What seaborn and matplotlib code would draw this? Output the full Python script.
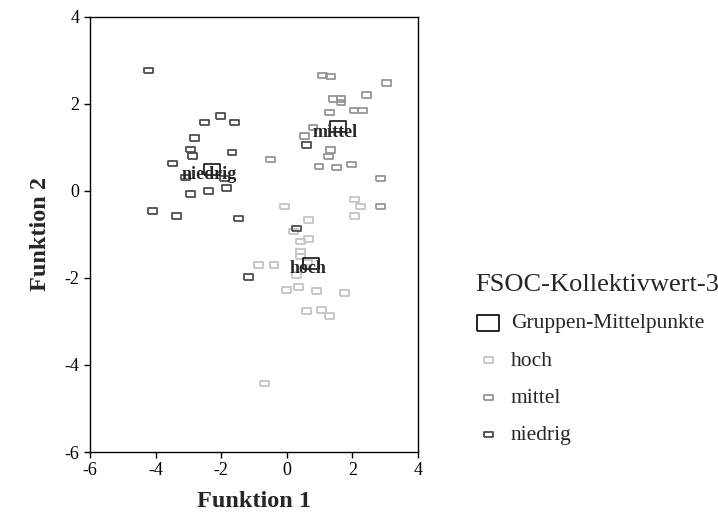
import matplotlib
matplotlib.use("Agg")
import matplotlib.pyplot as plt
import seaborn as sns

# Diskriminanzwerte (Funktion 1 / Funktion 2) je Gruppe
hoch_x = [-0.07, 2.06, 2.25, 2.06, 0.66, 0.21, 0.66, 0.42, 0.42, 0.42, 0.62,
          -0.87, -0.39, 0.30, -0.01, 0.35, 0.91, 1.75, 0.60, 1.06, 1.31, -0.68]
hoch_y = [-0.36, -0.19, -0.36, -0.57, -0.67, -0.93, -1.10, -1.16, -1.39, -1.51, -1.64,
          -1.70, -1.70, -1.93, -2.28, -2.21, -2.30, -2.34, -2.76, -2.74, -2.87, -4.43]

mittel_x = [1.08, 1.33, 3.03, 1.41, 1.65, 1.65, 2.42, 1.31, 2.05, 2.31,
            0.80, 0.53, 1.34, 1.26, 0.98, 1.52, 1.98, 2.86, 2.86, -0.50]
mittel_y = [2.65, 2.63, 2.48, 2.11, 2.11, 2.04, 2.21, 1.80, 1.85, 1.85,
            1.46, 1.26, 0.94, 0.79, 0.56, 0.54, 0.61, 0.29, -0.36, 0.73]

niedrig_x = [-4.22, -2.52, -2.03, -1.59, -2.81, -2.94, -2.88, -1.67, -3.49, -3.08,
             -1.89, -2.94, -2.39, -1.84, -4.09, -3.37, -1.47, -1.17, 0.30, 0.60]
niedrig_y = [2.77, 1.58, 1.72, 1.58, 1.22, 0.96, 0.80, 0.89, 0.63, 0.31,
             0.29, -0.07, 0.00, 0.07, -0.46, -0.57, -0.63, -1.98, -0.86, 1.06]

# Gruppen-Mittelpunkte
centroid_names = ["niedrig", "mittel", "hoch"]
centroid_x = [-2.28, 1.56, 0.73]
centroid_y = [0.50, 1.48, -1.66]

group_colors = {"hoch": "#c4c4c4", "mittel": "#959595", "niedrig": "#4d4d4d"}

sns.set_style("ticks")
plt.rcParams["font.family"] = ["Liberation Serif", "DejaVu Serif"]
plt.rcParams["axes.unicode_minus"] = False

# rectangular markers, wider than tall
rect = [(-1, -0.62), (1, -0.62), (1, 0.62), (-1, 0.62), (-1, -0.62)]
rect_big = [(-1, -0.7), (1, -0.7), (1, 0.7), (-1, 0.7), (-1, -0.7)]

fig = plt.figure(figsize=(7.18, 5.24), dpi=100)
ax = fig.add_axes([0.1253, 0.1374, 0.4569, 0.8302])

groups = [("hoch", hoch_x, hoch_y), ("mittel", mittel_x, mittel_y),
          ("niedrig", niedrig_x, niedrig_y)]
for name, gx, gy in groups:
    c = group_colors[name]
    sns.scatterplot(x=gx, y=gy, ax=ax, marker=rect, s=40, color=c,
                    facecolor="none", edgecolor=c, linewidth=1.3, zorder=3)

sns.scatterplot(x=centroid_x, y=centroid_y, ax=ax, marker=rect_big, s=125,
                color="black", facecolor="none", edgecolor="black",
                linewidth=1.1, zorder=4)

for name, cx, cy in zip(centroid_names, centroid_x, centroid_y):
    ax.annotate(name, (cx, cy), xytext=(-2, -4), textcoords="offset points",
                ha="center", va="center", fontsize=13, fontweight="bold",
                zorder=5)

ax.set_xlim(-6, 4)
ax.set_ylim(-6, 4)
ax.set_xticks([-6, -4, -2, 0, 2, 4])
ax.set_yticks([-6, -4, -2, 0, 2, 4])
ax.tick_params(direction="out", length=4, width=1, labelsize=13, colors="black")
for sp in ax.spines.values():
    sp.set_visible(True)
    sp.set_color("black")
    sp.set_linewidth(1.0)

ax.set_xlabel("Funktion 1", fontsize=17.5, fontweight="bold", labelpad=8)
ax.set_ylabel("Funktion 2", fontsize=17.5, fontweight="bold", labelpad=10)

# legend built from the drawn collections
handles = ax.collections
order = [3, 0, 1, 2]
labels = ["Gruppen-Mittelpunkte", "hoch", "mittel", "niedrig"]
leg = fig.legend([handles[i] for i in order], labels, title="FSOC-Kollektivwert-3",
                 loc="upper left", bbox_to_anchor=(0.662, 0.477), frameon=False,
                 fontsize=15.5, title_fontsize=19, labelspacing=0.8,
                 handlelength=1.2, handletextpad=0.45, alignment="left",
                 borderaxespad=0, borderpad=0)
leg.legend_handles[0].set_sizes([260])
leg.legend_handles[0].set_linewidth(1.2)

fig.savefig("out.png", dpi=100)
